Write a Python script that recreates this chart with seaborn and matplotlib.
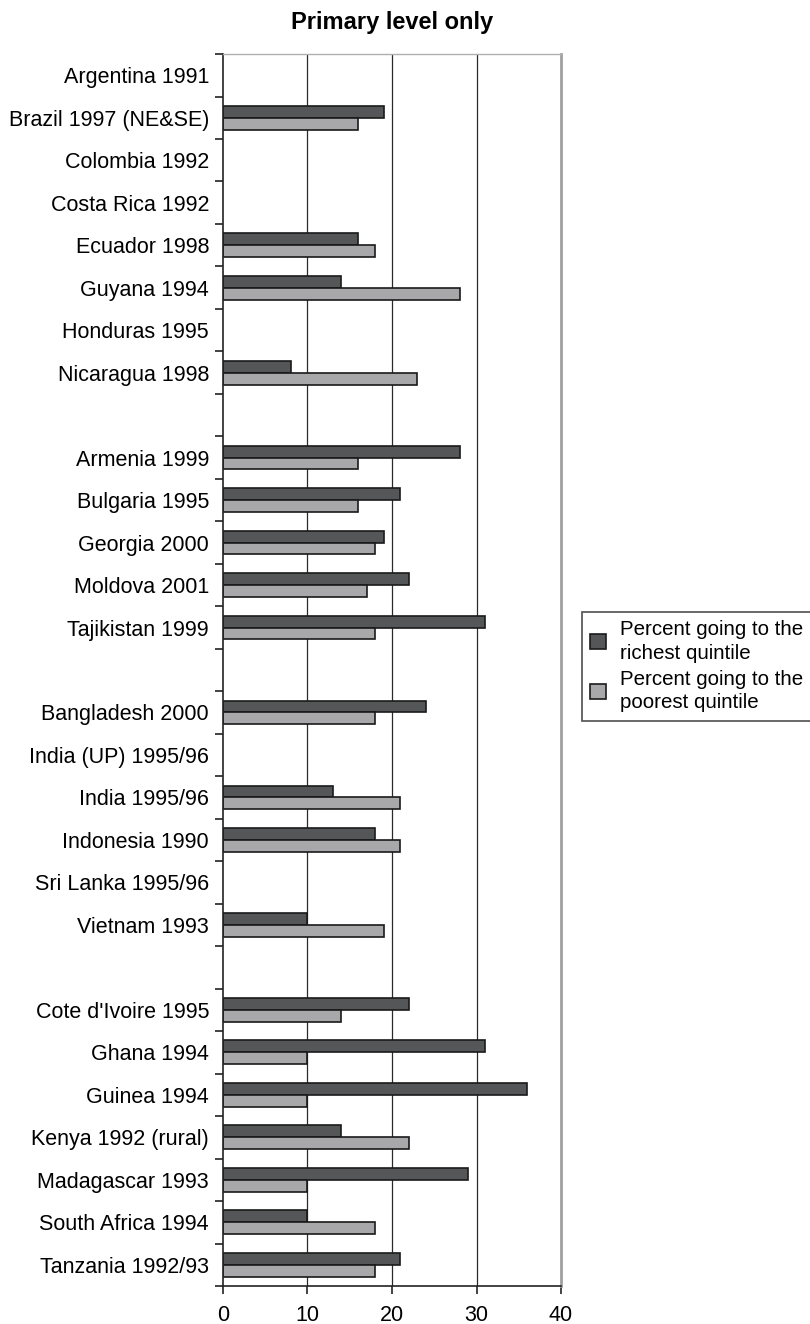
import matplotlib
matplotlib.use("Agg")
import matplotlib.pyplot as plt
import numpy as np
import pandas as pd
import seaborn as sns

# categories top to bottom; blank strings are the gaps between regions
countries = [
    "Argentina 1991", "Brazil 1997 (NE&SE)", "Colombia 1992", "Costa Rica 1992",
    "Ecuador 1998", "Guyana 1994", "Honduras 1995", "Nicaragua 1998", " ",
    "Armenia 1999", "Bulgaria 1995", "Georgia 2000", "Moldova 2001", "Tajikistan 1999", "  ",
    "Bangladesh 2000", "India (UP) 1995/96", "India 1995/96", "Indonesia 1990",
    "Sri Lanka 1995/96", "Vietnam 1993", "   ",
    "Cote d'Ivoire 1995", "Ghana 1994", "Guinea 1994", "Kenya 1992 (rural)",
    "Madagascar 1993", "South Africa 1994", "Tanzania 1992/93",
]
richest = [
    None, 19, None, None, 16, 14, None, 8, None,
    28, 21, 19, 22, 31, None,
    24, None, 13, 18, None, 10, None,
    22, 31, 36, 14, 29, 10, 21,
]
poorest = [
    None, 16, None, None, 18, 28, None, 23, None,
    16, 16, 18, 17, 18, None,
    18, None, 21, 21, None, 19, None,
    14, 10, 10, 22, 10, 18, 18,
]
series = ["Percent going to the\nrichest quintile", "Percent going to the\npoorest quintile"]

df = pd.DataFrame({
    "country": countries * 2,
    "series": [series[0]] * len(countries) + [series[1]] * len(countries),
    "value": richest + poorest,
}).dropna()

plt.rcParams["font.family"] = ["Liberation Sans", "DejaVu Sans"]

fig = plt.figure(figsize=(8.1, 13.24), dpi=100)
ax = fig.add_axes([0.2753, 0.0287, 0.4173, 0.9305])

sns.barplot(
    data=df, x="value", y="country", hue="series",
    order=countries, hue_order=series,
    palette=["#555658", "#a7a8ab"], width=0.56,
    edgecolor="#1a1a1a", linewidth=1.2, errorbar=None, ax=ax,
)

ax.set_xlim(0, 40)
ax.set_ylim(len(countries) - 0.5, -0.5)
ax.set_xticks([0, 10, 20, 30, 40])
ax.set_xlabel("")
ax.set_ylabel("")
ax.grid(False)
for v in [10, 20, 30]:
    ax.axvline(v, color="#2a2a2a", lw=0.9, zorder=0)

ax.set_yticks(range(len(countries)))
ax.set_yticklabels(countries, fontsize=15.5)
ax.tick_params(axis="y", length=0, pad=10)
ax.set_yticks(np.arange(-0.5, len(countries)), minor=True)
ax.tick_params(axis="y", which="minor", length=6, direction="out", width=1.2, color="#222")
ax.tick_params(axis="x", length=6, width=1.2, direction="out", labelsize=15.5, pad=8, color="#222")

ax.spines["left"].set_color("#222")
ax.spines["left"].set_linewidth(1.2)
ax.spines["bottom"].set_color("#222")
ax.spines["bottom"].set_linewidth(1.2)
ax.spines["right"].set_color("#a0a0a0")
ax.spines["right"].set_linewidth(2)
ax.spines["top"].set_color("#b0b0b0")
ax.spines["top"].set_linewidth(1)

handles, labels = ax.get_legend_handles_labels()
ax.legend_.remove()
leg = fig.legend(
    handles, labels, loc="upper left", bbox_to_anchor=(0.7185, 0.5378),
    fontsize=14.8, frameon=True, fancybox=False, edgecolor="#222",
    handlelength=0.75, handleheight=0.75, handletextpad=0.7, labelspacing=0.35,
    borderpad=0.4, borderaxespad=0,
)
leg.get_frame().set_linewidth(1.2)
for t in leg.get_texts():
    t.set_linespacing(1.3)

fig.text(0.4841, 0.983, "Primary level only", ha="center", va="center",
         fontsize=17, fontweight="bold")

fig.savefig("out.png", dpi=100, facecolor="white")
